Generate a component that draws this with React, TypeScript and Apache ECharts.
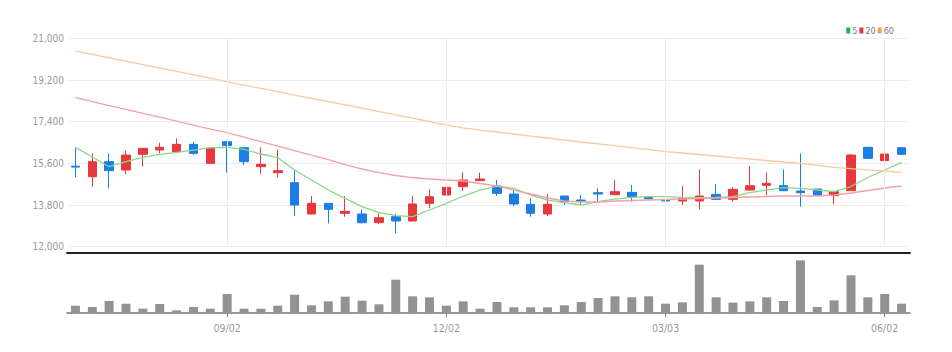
import React, { useEffect, useRef } from "react";
import * as echarts from "echarts";

const dates = [
  "07/01", "07/08", "07/15", "07/22", "07/29", "08/05", "08/12", "08/19", "08/26", "09/02",
  "09/09", "09/16", "09/23", "09/30", "10/07", "10/14", "10/21", "10/28", "11/04", "11/11",
  "11/18", "11/25", "12/02", "12/09", "12/16", "12/23", "12/30", "01/06", "01/13", "01/20",
  "01/27", "02/03", "02/10", "02/17", "02/24", "03/03", "03/10", "03/17", "03/24", "03/31",
  "04/07", "04/14", "04/21", "04/28", "05/05", "05/12", "05/19", "05/26", "06/02", "06/09",
];
const labelDates = ["09/02", "12/02", "03/03", "06/02"];

const opens = [
  15480, 15025, 15673, 15313, 15990, 16177, 16105, 16422, 15601, 16537,
  16278, 15457, 15198, 14766, 13413, 13873, 13441, 13413, 13038, 13297,
  13110, 13873, 14233, 14593, 14853, 14622, 14276, 13830, 13413, 14190,
  14017, 14334, 14248, 14348, 14147, 14017, 13974, 13974, 14262, 14046,
  14449, 14651, 14637, 14406, 14492, 14205, 14420, 16293, 15716, 16278,
];
const closes = [
  15440, 15673, 15285, 15961, 16249, 16293, 16422, 16033, 16249, 16365,
  15673, 15558, 15285, 13801, 13873, 13614, 13528, 13038, 13254, 13110,
  13845, 14161, 14565, 14881, 14925, 14305, 13845, 13441, 13830, 13945,
  13974, 14276, 14377, 14161, 14075, 13974, 14089, 14190, 14046, 14478,
  14637, 14737, 14420, 14334, 14233, 14377, 15961, 15817, 16005, 15990,
];
const lows = [
  14997, 14593, 14521, 15141, 15457, 16033, 16077, 15976, 15572, 15198,
  15529, 15141, 14997, 13326, 13398, 13009, 13297, 13009, 12981, 12577,
  13100, 13657, 13945, 14406, 14853, 14190, 13758, 13297, 13326, 13801,
  13801, 13974, 14219, 13945, 14017, 13873, 13801, 13614, 14017, 13945,
  14420, 14219, 14406, 13729, 14190, 13830, 14420, 15789, 15025, 15961,
];
const highs = [
  16250, 16033, 16033, 16149, 16249, 16494, 16681, 16537, 16293, 16581,
  16293, 16293, 16206, 15313, 14190, 13873, 14190, 13614, 13441, 13413,
  14190, 14478, 14665, 15213, 15198, 14881, 14449, 14089, 14276, 14190,
  14233, 14521, 14881, 14665, 14161, 14665, 14622, 15342, 14709, 14565,
  15486, 15198, 15342, 16033, 14492, 14420, 16005, 16293, 16077, 16278,
];

const ma5 = [
  16293, 15875, 15457, 15673, 15861, 15990, 16077, 16177, 16278, 16293,
  16206, 16005, 15846, 15313, 14881, 14449, 14089, 13729, 13470, 13341,
  13297, 13585, 13873, 14190, 14449, 14622, 14521, 14233, 14017, 13902,
  13801, 13945, 14060, 14132, 14161, 14161, 14132, 14118, 14132, 14161,
  14334, 14449, 14550, 14521, 14449, 14377, 14600, 14990, 15313, 15640,
];
const ma20 = [
  18437, 18268, 18100, 17931, 17763, 17594, 17426, 17257, 17085, 16925,
  16730, 16536, 16342, 16152, 15961, 15767, 15551, 15357, 15205, 15076,
  14989, 14925, 14881, 14838, 14730, 14622, 14449, 14277, 14104, 13974,
  13931, 13931, 13974, 13996, 14017, 14039, 14061, 14082, 14104, 14125,
  14147, 14169, 14190, 14190, 14190, 14233, 14320, 14428, 14536, 14622,
];
const ma60 = [
  20454, 20307, 20160, 20014, 19867, 19720, 19573, 19426, 19279, 19128,
  18985, 18839, 18696, 18553, 18411, 18268, 18126, 17983, 17841, 17698,
  17556, 17409, 17257, 17136, 17041, 16955, 16869, 16782, 16696, 16609,
  16523, 16445, 16363, 16277, 16190, 16104, 16048, 15983, 15918, 15853,
  15789, 15724, 15659, 15603, 15516, 15430, 15374, 15322, 15270, 15214,
];

const volumes = [
  22000, 18000, 36000, 28000, 13000, 27000, 8000, 18000, 13000, 57000,
  13000, 13000, 22000, 55000, 23000, 35000, 49000, 37000, 26000, 100000,
  50000, 47000, 22000, 35000, 13000, 33000, 17000, 17000, 17000, 23000,
  33000, 45000, 50000, 47000, 50000, 28000, 32000, 145000, 47000, 31000,
  35000, 47000, 36000, 158000, 18000, 38000, 113000, 47000, 57000, 28000,
];

const FONT = "'Liberation Sans Narrow', 'DejaVu Sans Condensed', sans-serif";
const showLabel = (_i: number, v: string) => labelDates.includes(v);

export default function App() {
  const ref = useRef<HTMLDivElement>(null);
  useEffect(() => {
    if (!ref.current) return;
    document.body.style.margin = "0";
    const chart = echarts.init(ref.current, null, { renderer: "svg" });
    chart.setOption({
      animation: false,
      backgroundColor: "#fff",
      legend: {
        data: ["5", "20", "60"],
        right: 53,
        top: 21,
        icon: "rect",
        itemWidth: 4,
        itemHeight: 6,
        itemGap: 2,
        textStyle: { fontSize: 9, color: "#777", fontFamily: FONT, padding: [0, 0, 0, -3] },
      },
      grid: [
        { left: 67, right: 42, top: 38.4, height: 208.3 },
        { left: 67, right: 42, top: 253, height: 60 },
      ],
      xAxis: [
        {
          gridIndex: 0,
          type: "category",
          data: dates,
          boundaryGap: true,
          axisLine: { show: false },
          axisTick: { show: false },
          axisLabel: { show: false },
          splitLine: { show: false },
        },
        {
          gridIndex: 1,
          type: "category",
          data: dates,
          boundaryGap: true,
          axisLine: { lineStyle: { color: "#777", width: 1.5 } },
          axisTick: { show: true, alignWithLabel: true, interval: showLabel, length: 4, lineStyle: { color: "#777" } },
          axisLabel: { interval: showLabel, color: "#999", fontSize: 10.5, fontFamily: FONT, margin: 9 },
          splitLine: { show: false },
        },
        {
          gridIndex: 1,
          type: "category",
          data: dates,
          position: "top",
          axisLine: { lineStyle: { color: "#222", width: 2 } },
          axisTick: { show: false },
          axisLabel: { show: false },
          splitLine: { show: false },
        },
      ],
      yAxis: [
        {
          gridIndex: 0,
          type: "value",
          min: 12000,
          max: 21000,
          interval: 1800,
          axisLine: { show: false },
          axisTick: { show: false },
          axisLabel: {
            color: "#999",
            fontSize: 10,
            fontFamily: FONT,
            margin: 3,
            formatter: (v: number) => v.toLocaleString("en-US"),
          },
          splitLine: { lineStyle: { color: "#ececec", width: 1 } },
        },
        {
          gridIndex: 1,
          type: "value",
          min: 0,
          max: 180000,
          show: false,
          splitLine: { show: false },
        },
      ],
      series: [
        {
          type: "candlestick",
          name: "price",
          xAxisIndex: 0,
          yAxisIndex: 0,
          barWidth: 9,
          data: dates.map((_, i) => [opens[i], closes[i], lows[i], highs[i]]),
          itemStyle: {
            color: "#e8383d",
            color0: "#1b7de6",
            borderColor: "#e8383d",
            borderColor0: "#1b7de6",
            borderWidth: 1,
          },
          markLine: {
            silent: true,
            symbol: "none",
            label: { show: false },
            lineStyle: { color: "#ececec", type: "solid", width: 1 },
            data: labelDates.map((d) => ({ xAxis: d })),
          },
        },
        {
          type: "line",
          name: "5",
          xAxisIndex: 0,
          yAxisIndex: 0,
          data: ma5,
          showSymbol: false,
          symbol: "none",
          itemStyle: { color: "#22b14c" },
          lineStyle: { color: "#8ad68a", width: 1.3 },
        },
        {
          type: "line",
          name: "20",
          xAxisIndex: 0,
          yAxisIndex: 0,
          data: ma20,
          showSymbol: false,
          symbol: "none",
          itemStyle: { color: "#e8323c" },
          lineStyle: { color: "#f4a0a4", width: 1.3 },
        },
        {
          type: "line",
          name: "60",
          xAxisIndex: 0,
          yAxisIndex: 0,
          data: ma60,
          showSymbol: false,
          symbol: "none",
          itemStyle: { color: "#f7a046" },
          lineStyle: { color: "#f8c99c", width: 1.3 },
        },
        {
          type: "bar",
          name: "volume",
          xAxisIndex: 1,
          yAxisIndex: 1,
          barWidth: 9,
          data: volumes,
          itemStyle: { color: "#929292" },
        },
      ],
    });
    return () => chart.dispose();
  }, []);
  return <div ref={ref} style={{ width: 952, height: 352 }} />;
}
